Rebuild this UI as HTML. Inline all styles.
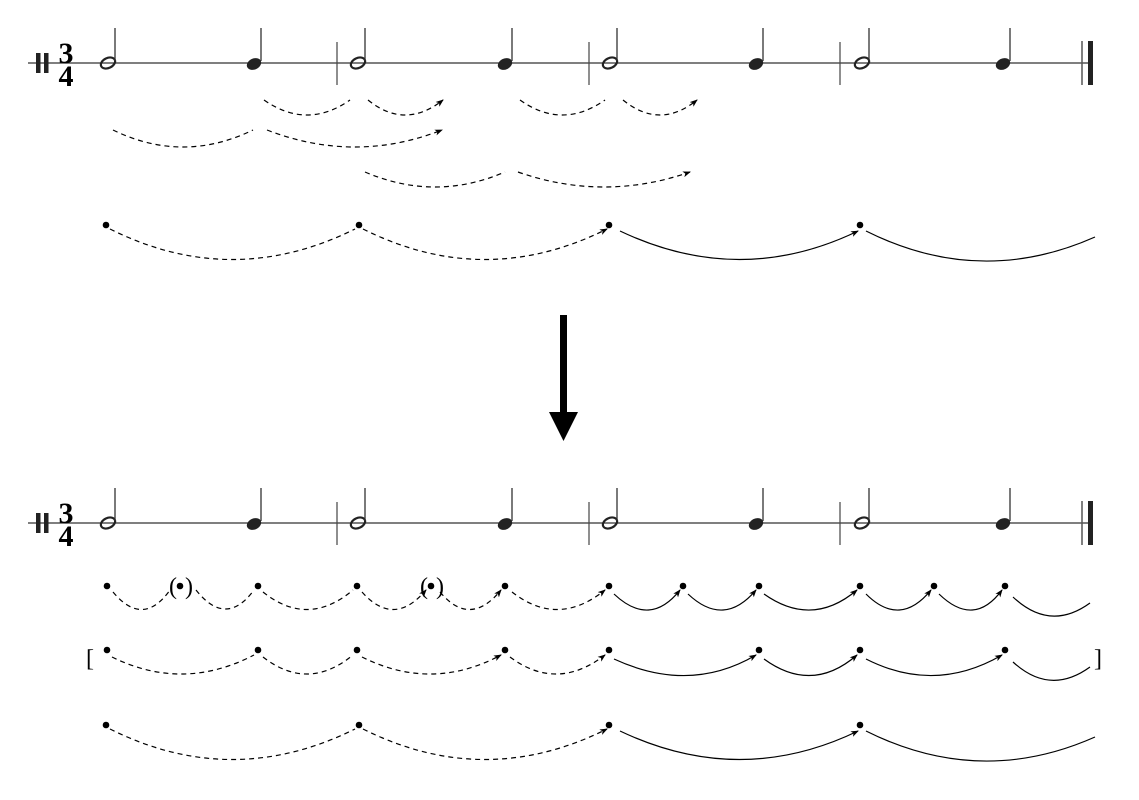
<!DOCTYPE html>
<html><head><style>html,body{margin:0;padding:0;background:#fff}svg{display:block}</style></head>
<body>
<svg width="1139" height="800" viewBox="0 0 1139 800" xmlns="http://www.w3.org/2000/svg">
<defs>
<marker id="ah" markerWidth="8" markerHeight="8" refX="7" refY="4" orient="auto" markerUnits="userSpaceOnUse">
<path d="M0,1 L8,4 L0,7 L2,4 Z" fill="#000"/>
</marker>
<g id="staff">
<line x1="28" y1="63" x2="1093" y2="63" stroke="#333" stroke-width="1.3"/>
<rect x="36" y="53" width="4.5" height="20" fill="#222"/>
<rect x="44" y="53" width="4.5" height="20" fill="#222"/>
<text x="66" y="63" font-family="Liberation Serif, serif" font-weight="bold" font-size="30" text-anchor="middle">3</text>
<text x="66" y="86" font-family="Liberation Serif, serif" font-weight="bold" font-size="30" text-anchor="middle">4</text>
<line x1="337" y1="42" x2="337" y2="85" stroke="#444" stroke-width="1.2"/>
<line x1="589" y1="42" x2="589" y2="85" stroke="#444" stroke-width="1.2"/>
<line x1="840" y1="42" x2="840" y2="85" stroke="#444" stroke-width="1.2"/>
<line x1="1082" y1="41" x2="1082" y2="85" stroke="#555" stroke-width="1.5"/>
<rect x="1088" y="41" width="5" height="44" fill="#222"/>
<g id="half"><ellipse cx="108" cy="63" rx="7.5" ry="5" transform="rotate(-25 108 63)" fill="none" stroke="#222" stroke-width="2.2"/><line x1="115" y1="61" x2="115" y2="28" stroke="#333" stroke-width="1.3"/></g>
<use href="#half" x="250"/><use href="#half" x="502"/><use href="#half" x="754"/>
<g id="qtr"><ellipse cx="254" cy="64" rx="7.5" ry="5.5" transform="rotate(-25 254 64)" fill="#222"/><line x1="261" y1="61" x2="261" y2="28" stroke="#333" stroke-width="1.3"/></g>
<use href="#qtr" x="251"/><use href="#qtr" x="502"/><use href="#qtr" x="749"/>
</g>
</defs>
<use href="#staff"/>
<use href="#staff" y="460"/>

<g fill="none" stroke="#000" stroke-width="1.2">
<g stroke-dasharray="5,4">
<path d="M264,100 Q307,130 350,100"/>
<path d="M368,100 Q405,130 443,100" marker-end="url(#ah)"/>
<path d="M520,100 Q562,130 605,100"/>
<path d="M623,100 Q660,130 697,100" marker-end="url(#ah)"/>
<path d="M113,130 Q183,164 253,130"/>
<path d="M267,130 Q355,164 442,130" marker-end="url(#ah)"/>
<path d="M365,172 Q435,202 505,172"/>
<path d="M518,172 Q604,202 690,172" marker-end="url(#ah)"/>
<path d="M110,229 Q232,290 355,229"/>
<path d="M363,229 Q485,290 607,229" marker-end="url(#ah)"/>
<path d="M110,729 Q232,790 355,729"/>
<path d="M363,729 Q485,790 607,729" marker-end="url(#ah)"/>
<!-- row A -->
<path d="M113,592 Q143,628 170,590"/>
<path d="M196,590 Q226,628 254,590"/>
<path d="M263,592 Q308,628 353,590"/>
<path d="M362,592 Q394,628 426,590" marker-end="url(#ah)"/>
<path d="M440,592 Q470,628 501,590" marker-end="url(#ah)"/>
<path d="M512,592 Q558,628 605,590" marker-end="url(#ah)"/>
<!-- row B -->
<path d="M112,657 Q183,692 254,655"/>
<path d="M263,657 Q308,692 353,655"/>
<path d="M362,657 Q432,692 501,655" marker-end="url(#ah)"/>
<path d="M510,657 Q557,692 605,655" marker-end="url(#ah)"/>
</g>
<path d="M620,231 Q740,288 858,231" marker-end="url(#ah)"/>
<path d="M866,231 Q980,288 1095,237"/>
<path d="M620,731 Q740,788 858,731" marker-end="url(#ah)"/>
<path d="M866,731 Q980,788 1095,737"/>
<!-- row A solid -->
<path d="M614,594 Q650,628 680,590" marker-end="url(#ah)"/>
<path d="M688,594 Q724,628 756,590" marker-end="url(#ah)"/>
<path d="M764,594 Q812,628 857,590" marker-end="url(#ah)"/>
<path d="M866,594 Q900,628 931,590" marker-end="url(#ah)"/>
<path d="M939,594 Q974,628 1002,590" marker-end="url(#ah)"/>
<path d="M1013,597 Q1050,632 1090,603"/>
<!-- row B solid -->
<path d="M614,659 Q690,694 756,655" marker-end="url(#ah)"/>
<path d="M764,659 Q812,694 857,655" marker-end="url(#ah)"/>
<path d="M866,659 Q935,694 1002,655" marker-end="url(#ah)"/>
<path d="M1013,662 Q1050,696 1090,667"/>
</g>

<g fill="#000">
<circle cx="106" cy="225" r="3.3"/><circle cx="359" cy="225" r="3.3"/><circle cx="609" cy="225" r="3.3"/><circle cx="860" cy="225" r="3.3"/>
<circle cx="106" cy="725" r="3.3"/><circle cx="359" cy="725" r="3.3"/><circle cx="609" cy="725" r="3.3"/><circle cx="860" cy="725" r="3.3"/>
<circle cx="107" cy="586" r="3.3"/><circle cx="180" cy="586" r="3.3"/><circle cx="258" cy="586" r="3.3"/><circle cx="357" cy="586" r="3.3"/><circle cx="431" cy="586" r="3.3"/><circle cx="505" cy="586" r="3.3"/><circle cx="609" cy="586" r="3.3"/><circle cx="683" cy="586" r="3.3"/><circle cx="759" cy="586" r="3.3"/><circle cx="860" cy="586" r="3.3"/><circle cx="934" cy="586" r="3.3"/><circle cx="1005" cy="586" r="3.3"/>
<circle cx="107" cy="650" r="3.3"/><circle cx="258" cy="650" r="3.3"/><circle cx="357" cy="650" r="3.3"/><circle cx="505" cy="650" r="3.3"/><circle cx="609" cy="650" r="3.3"/><circle cx="759" cy="650" r="3.3"/><circle cx="860" cy="650" r="3.3"/><circle cx="1005" cy="650" r="3.3"/>
</g>
<g font-family="Liberation Serif, serif" font-size="24" fill="#000">
<text x="169" y="594">(</text><text x="185" y="594">)</text>
<text x="420" y="594">(</text><text x="436" y="594">)</text>
<text x="86" y="666">[</text><text x="1094" y="666">]</text>
</g>

<rect x="560" y="315" width="7" height="100" fill="#000"/>
<path d="M549,412 L578,412 L563.5,441 Z" fill="#000"/>
</svg>
</body></html>
